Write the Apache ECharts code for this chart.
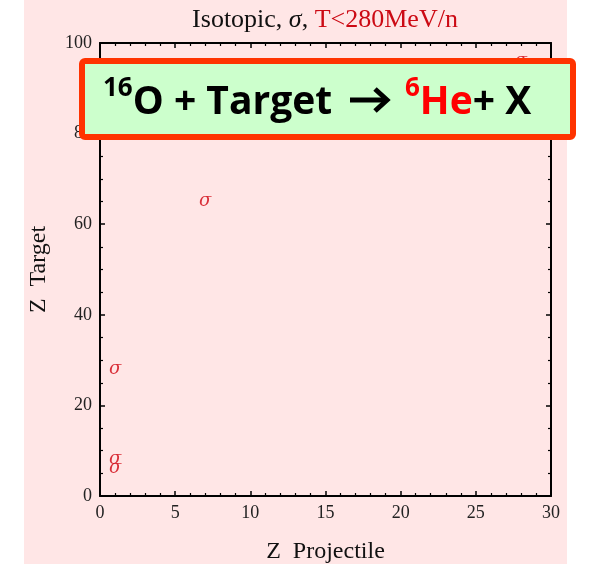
<!DOCTYPE html>
<html>
<head>
<meta charset="utf-8">
<script src="https://cdn.jsdelivr.net/npm/echarts@6/dist/echarts.min.js"></script>
<style>
  html, body { margin: 0; padding: 0; background: #ffffff; }
  #chart { width: 589px; height: 586px; }
</style>
</head>
<body>
<div id="chart"></div>
<script>
// Projectile / target charge pairs with a measured isotopic cross section
const projectileZ = [1, 1, 1, 7, 28];
const targetZ = [6, 8, 28, 65, 96];
const markText = 'σ';

// Axis ranges and tick steps
const xRange = [0, 30];
const yRange = [0, 100];
const xStep = 5;
const yStep = 20;

const titleParts = ['Isotopic, ', 'σ', ', ', 'T<280MeV/n'];
const reactionLeft = ['16', 'O + Target'];
const reactionRight = ['6', 'He', '+ X'];

const points = projectileZ.map((z, i) => [z, targetZ[i]]);

const serif = '"Liberation Serif", "DejaVu Serif", serif';
const sans = '"Open Sans", "Noto Sans", sans-serif';
const red = '#cc0a14';

const chart = echarts.init(document.getElementById('chart'), null, { renderer: 'canvas' });

const baseAxis = {
  axisLine: { show: true, onZero: false, lineStyle: { color: '#000', width: 2 } },
  splitLine: { show: false },
  axisTick: { show: true, inside: true, length: 5, lineStyle: { color: '#000', width: 1.5 } },
  minorTick: { show: true, length: 3, lineStyle: { color: '#000', width: 1.2 } },
};

const boldRich = (size, color) => ({ fontFamily: sans, fontWeight: 'bold', fontSize: size, fill: color, lineHeight: 46 });

chart.setOption({
  backgroundColor: '#ffffff',
  animation: false,
  title: {
    text: '{a|' + titleParts[0] + '}{s|' + titleParts[1] + '}{a|' + titleParts[2] + '}{r|' + titleParts[3] + '}',
    left: 320,
    top: 2,
    textAlign: 'center',
    textStyle: {
      fontWeight: 'normal',
      rich: {
        a: { fontFamily: serif, fontSize: 26, fontWeight: 'normal', color: '#111' },
        s: { fontFamily: serif, fontSize: 26, fontWeight: 'normal', fontStyle: 'italic', color: '#111' },
        r: { fontFamily: serif, fontSize: 26, fontWeight: 'normal', color: red }
      }
    }
  },
  grid: { left: 100, right: 38, top: 43, bottom: 90, containLabel: false },
  xAxis: [
    Object.assign({}, baseAxis, {
      type: 'value', position: 'bottom',
      min: xRange[0], max: xRange[1], interval: xStep,
      minorTick: Object.assign({}, baseAxis.minorTick, { splitNumber: 5 }),
      axisLabel: { fontFamily: serif, fontSize: 18, color: '#222', margin: 8 },
      name: 'Z  Projectile', nameLocation: 'middle', nameGap: 44,
      nameTextStyle: { fontFamily: serif, fontSize: 24, color: '#111' }
    }),
    Object.assign({}, baseAxis, {
      type: 'value', position: 'top',
      min: xRange[0], max: xRange[1], interval: xStep,
      minorTick: Object.assign({}, baseAxis.minorTick, { splitNumber: 5 }),
      axisLabel: { show: false }
    })
  ],
  yAxis: [
    Object.assign({}, baseAxis, {
      type: 'value', position: 'left',
      min: yRange[0], max: yRange[1], interval: yStep,
      minorTick: Object.assign({}, baseAxis.minorTick, { splitNumber: 4 }),
      axisLabel: { fontFamily: serif, fontSize: 18, color: '#222', margin: 8 },
      name: 'Z  Target', nameLocation: 'middle', nameGap: 49, nameRotate: 90,
      nameTextStyle: { fontFamily: serif, fontSize: 24, color: '#111' }
    }),
    Object.assign({}, baseAxis, {
      type: 'value', position: 'right',
      min: yRange[0], max: yRange[1], interval: yStep,
      minorTick: Object.assign({}, baseAxis.minorTick, { splitNumber: 4 }),
      axisLabel: { show: false }
    })
  ],
  graphic: [
    {
      type: 'rect', z: -10, silent: true,
      shape: { x: 24, y: 0, width: 543, height: 564 },
      style: { fill: '#ffe6e6' }
    },
    {
      type: 'rect', z: 100, silent: true,
      shape: { x: 82, y: 61, width: 491, height: 76, r: 3 },
      style: { fill: '#ccffcc', stroke: '#ff3300', lineWidth: 6 }
    },
    {
      type: 'text', z: 101, silent: true,
      x: 103, y: 99,
      style: {
        text: '{sup|' + reactionLeft[0] + '}{b|' + reactionLeft[1] + '}',
        verticalAlign: 'middle',
        rich: {
          b: Object.assign(boldRich(39, '#000'), { verticalAlign: 'bottom' }),
          sup: Object.assign(boldRich(26, '#000'), { verticalAlign: 'top' })
        }
      }
    },
    {
      // reaction arrow
      type: 'group', z: 101, silent: true,
      children: [
        { type: 'line', z: 101, shape: { x1: 350, y1: 100, x2: 387, y2: 100 }, style: { stroke: '#000', lineWidth: 5 } },
        { type: 'polyline', z: 101, shape: { points: [[375, 89], [387, 100], [375, 111]] }, style: { stroke: '#000', lineWidth: 5, fill: null, lineJoin: 'miter' } }
      ]
    },
    {
      type: 'text', z: 101, silent: true,
      x: 405, y: 99,
      style: {
        text: '{supr|' + reactionRight[0] + '}{br|' + reactionRight[1] + '}{b|' + reactionRight[2] + '}',
        verticalAlign: 'middle',
        rich: {
          b: Object.assign(boldRich(39, '#000'), { verticalAlign: 'bottom' }),
          br: Object.assign(boldRich(39, '#ff0000'), { verticalAlign: 'bottom' }),
          supr: Object.assign(boldRich(26, '#ff0000'), { verticalAlign: 'top' })
        }
      }
    }
  ],
  series: [
    {
      type: 'scatter',
      xAxisIndex: 0, yAxisIndex: 0,
      data: points,
      symbol: 'circle',
      symbolSize: 1,
      itemStyle: { color: 'rgba(0,0,0,0)' },
      label: {
        show: true, position: 'inside',
        formatter: () => markText,
        fontFamily: '"DejaVu Serif", serif', fontStyle: 'italic', fontSize: 18, color: '#d0000c',
        textBorderWidth: 0
      },
      z: 5
    }
  ]
});
</script>
</body>
</html>
